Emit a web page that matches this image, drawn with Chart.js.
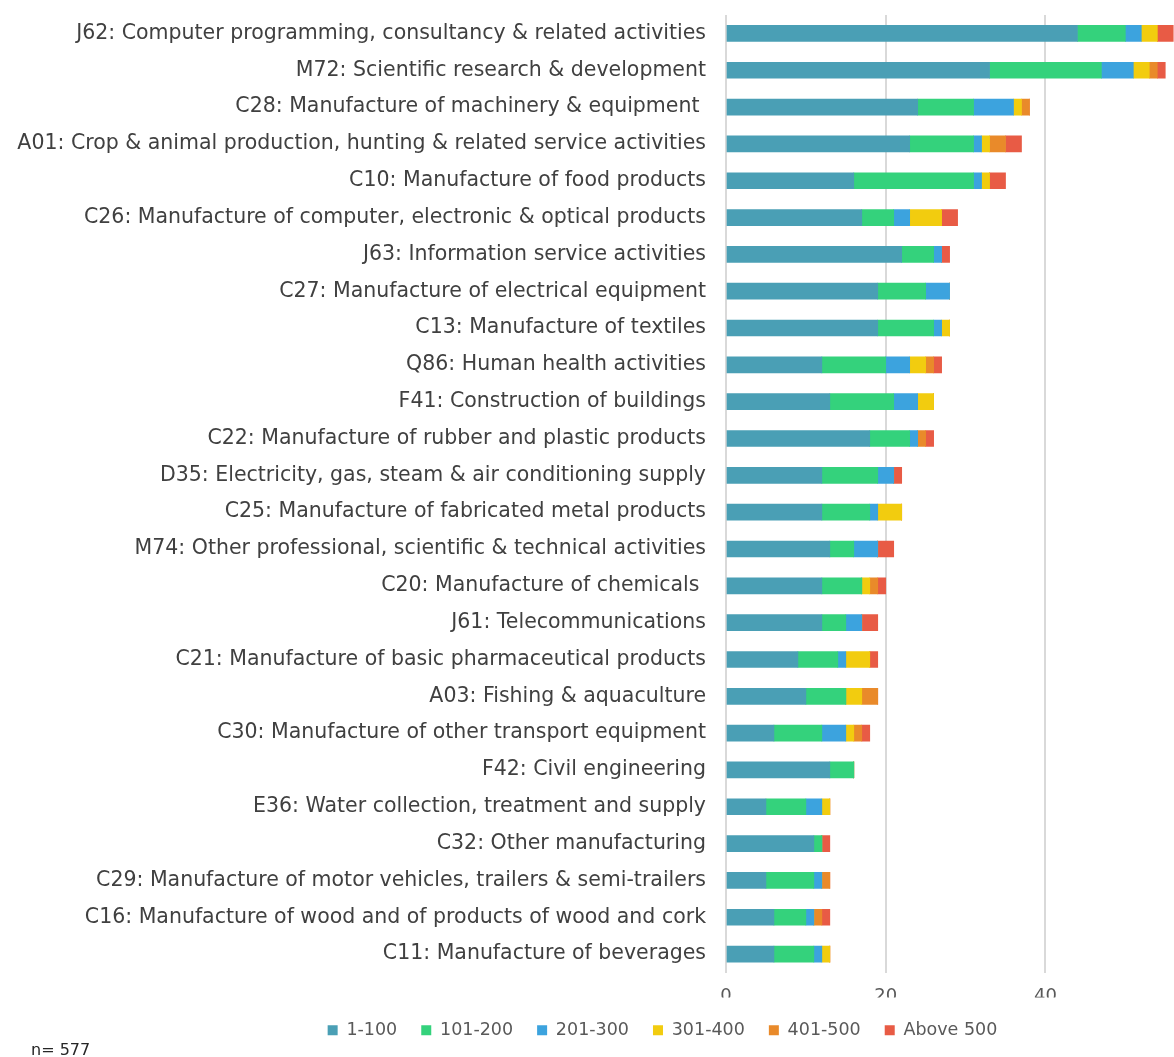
<!DOCTYPE html>
<html>
<head>
<meta charset="utf-8">
<script src="https://cdn.jsdelivr.net/npm/chart.js@4.4.1/dist/chart.umd.min.js"></script>
<style>
  html, body { margin: 0; padding: 0; background: #ffffff; overflow: hidden; width: 1174px; height: 1057px; }
  #wrap { position: relative; width: 1174px; height: 1057px; overflow: hidden; }
  #c { position: absolute; left: 0; top: 0; }
  #note { position: absolute; left: 31px; top: 1040px; font-family: "DejaVu Sans", sans-serif; font-size: 16px; line-height: 20px; color: #262626; }
</style>
</head>
<body>
<div id="wrap">
  <canvas id="c" width="1325" height="1057"></canvas>
  <div id="note">n= 577</div>
</div>
<script>
const categories = [
  "J62: Computer programming, consultancy & related activities",
  "M72: Scientific research & development",
  "C28: Manufacture of machinery & equipment ",
  "A01: Crop & animal production, hunting & related service activities",
  "C10: Manufacture of food products",
  "C26: Manufacture of computer, electronic & optical products",
  "J63: Information service activities",
  "C27: Manufacture of electrical equipment",
  "C13: Manufacture of textiles",
  "Q86: Human health activities",
  "F41: Construction of buildings",
  "C22: Manufacture of rubber and plastic products",
  "D35: Electricity, gas, steam & air conditioning supply",
  "C25: Manufacture of fabricated metal products",
  "M74: Other professional, scientific & technical activities",
  "C20: Manufacture of chemicals ",
  "J61: Telecommunications",
  "C21: Manufacture of basic pharmaceutical products",
  "A03: Fishing & aquaculture",
  "C30: Manufacture of other transport equipment",
  "F42: Civil engineering",
  "E36: Water collection, treatment and supply",
  "C32: Other manufacturing",
  "C29: Manufacture of motor vehicles, trailers & semi-trailers",
  "C16: Manufacture of wood and of products of wood and cork",
  "C11: Manufacture of beverages"
];
const seriesNames = ["1-100", "101-200", "201-300", "301-400", "401-500", "Above 500"];
const size1to100    = [44,33,24,23,16,17,22,19,19,12,13,18,12,12,13,12,12,9,10,6,13,5,11,5,6,6];
const size101to200  = [6,14,7,8,15,4,4,6,7,8,8,5,7,6,3,5,3,5,5,6,3,5,1,6,4,5];
const size201to300  = [2,4,5,1,1,2,1,3,1,3,3,1,2,1,3,0,2,1,0,3,0,2,0,1,1,1];
const size301to400  = [2,2,1,1,1,4,0,0,1,2,2,0,0,3,0,1,0,3,2,1,0,1,0,0,0,1];
const size401to500  = [0,1,1,2,0,0,0,0,0,1,0,1,0,0,0,1,0,0,2,1,0,0,0,1,1,0];
const sizeAbove500  = [2,1,0,2,2,2,1,0,0,1,0,1,1,0,2,1,2,1,0,1,0,0,1,0,1,0];
const xTickValues = [0, 20, 40, 60];

const seriesData = [size1to100, size101to200, size201to300, size301to400, size401to500, sizeAbove500];
const colors = ["#4a9fb5", "#34d27c", "#3ca3de", "#f2cc0f", "#e98a2a", "#e85b45"];

const FONT = "'DejaVu Sans', sans-serif";

const chart = new Chart(document.getElementById('c'), {
  type: 'bar',
  data: {
    labels: categories,
    datasets: seriesNames.map((name, i) => ({
      label: name,
      data: seriesData[i],
      backgroundColor: colors[i],
      borderWidth: 0,
      barThickness: 16,
      stack: 's'
    }))
  },
  options: {
    indexAxis: 'y',
    responsive: false,
    animation: false,
    devicePixelRatio: 1,
    layout: { padding: { top: 15, left: 0, right: 0, bottom: 8 } },
    scales: {
      x: {
        stacked: true,
        min: 0,
        max: 75,
        afterFit: (s) => { s.height = 25; },
        afterBuildTicks: (s) => { s.ticks = xTickValues.map(v => ({ value: v })); },
        grid: { color: '#d9d9d9', lineWidth: 2, drawTicks: false },
        border: { display: false },
        ticks: { padding: 13, color: '#595959', font: { family: FONT, size: 18 } }
      },
      y: {
        stacked: true,
        afterFit: (s) => { s.width = 726; s.paddingTop = 0; },
        grid: { display: false, drawTicks: false },
        border: { display: false },
        ticks: { padding: 20, color: '#404040', font: { family: FONT, size: 20.5 }, autoSkip: false }
      }
    },
    plugins: {
      legend: {
        position: 'bottom',
        labels: {
          boxWidth: 10,
          boxHeight: 10,
          padding: 24,
          color: '#595959',
          font: { family: FONT, size: 17.5 }
        }
      },
      tooltip: { enabled: false }
    }
  }
});
</script>
</body>
</html>
